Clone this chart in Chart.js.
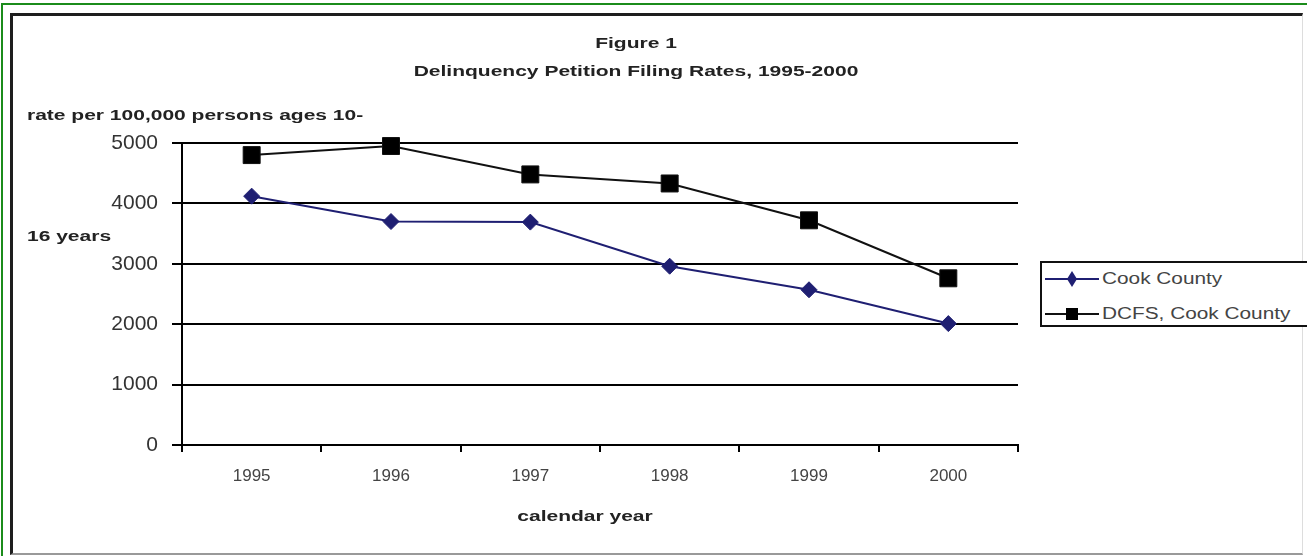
<!DOCTYPE html>
<html>
<head>
<meta charset="utf-8">
<title>Delinquency Petition Filing Rates, 1995-2000</title>
<script src="https://cdn.jsdelivr.net/npm/chart.js@4/dist/chart.umd.min.js"></script>
<style>
  html, body {
    margin: 0;
    padding: 0;
    width: 1307px;
    height: 556px;
    overflow: hidden;
    background: #fff;
    position: relative;
    font-family: 'Liberation Sans', Arial, sans-serif;
  }
  #outer {
    position: absolute; left: 1px; top: 3px;
    width: 1400px; height: 600px;
    border: 2px solid #1b8c1b;
  }
  #frame {
    position: absolute; left: 10px; top: 13px;
    width: 1289px; height: 537px;
    border: 3px solid #1e1e1e;
    border-right: 1px solid #ddd;
    border-bottom: 2px solid #999;
  }
  #wrap { position: absolute; left: 12px; top: 16px; width: 1244px; height: 532px; }
  #legend {
    position: absolute; left: 1040px; top: 261px;
    width: 300px; height: 62px;
    border: 2px solid #111;
    background: #fff;
  }
  .row { position: absolute; left: 3px; height: 20px; width: 290px; }
  .row svg { position: absolute; left: 0; top: 0; }
  .row span {
    position: absolute; left: 57px; top: 0;
    font-size: 16px; line-height: 20px; color: #444;
    white-space: nowrap;
    transform: scaleX(1.3); transform-origin: left center;
  }
</style>
</head>
<body>
<div id="outer"></div>
<div id="frame"></div>
<div id="wrap"><canvas id="chart" width="1244" height="532"></canvas></div>
<div id="legend"></div>

<script>
// values
const years = ['1995', '1996', '1997', '1998', '1999', '2000'];
const cookCounty = [4120, 3700, 3690, 2960, 2570, 2010];
const dcfsCookCounty = [4800, 4950, 4480, 4330, 3720, 2760];
const seriesNames = ['Cook County', 'DCFS, Cook County'];
const yMin = 0;
const yMax = 5000;
const yStep = 1000;

const titleLines = ['Figure 1', 'Delinquency Petition Filing Rates, 1995-2000'];
const yTitleLines = ['rate per 100,000 persons ages 10-', '16 years'];
const xTitle = 'calendar year';

const COOK_COLOR = '#1f1f72';
const DCFS_COLOR = '#111';
const STRETCH = 1.5; // the original figure is scanned wide, text looks stretched

function drawStretched(ctx, text, x, y, align) {
  ctx.save();
  ctx.translate(x, y);
  ctx.scale(STRETCH, 1);
  ctx.font = "bold 14px 'Liberation Sans', Arial, sans-serif";
  ctx.fillStyle = '#222';
  ctx.textAlign = align;
  ctx.textBaseline = 'middle';
  ctx.fillText(text, 0, 0);
  ctx.restore();
}

const labelsPlugin = {
  id: 'figureText',
  afterDraw(chart) {
    const ctx = chart.ctx;
    drawStretched(ctx, titleLines[0], 624, 28, 'center');
    drawStretched(ctx, titleLines[1], 624, 56, 'center');
    drawStretched(ctx, yTitleLines[0], 15, 100, 'left');
    drawStretched(ctx, yTitleLines[1], 15, 221, 'left');
    drawStretched(ctx, xTitle, 573, 501, 'center');
  },
};

const chart = new Chart(document.getElementById('chart').getContext('2d'), {
  type: 'line',
  data: {
    labels: years,
    datasets: [
      {
        label: seriesNames[0],
        data: cookCounty,
        borderColor: COOK_COLOR,
        backgroundColor: COOK_COLOR,
        borderWidth: 2,
        pointStyle: 'rectRot',
        pointRadius: 8,
        pointBorderWidth: 1,
        tension: 0,
        clip: false,
      },
      {
        label: seriesNames[1],
        data: dcfsCookCounty,
        borderColor: DCFS_COLOR,
        backgroundColor: '#000',
        borderWidth: 2,
        pointStyle: 'rect',
        pointRadius: 12,
        pointBorderWidth: 1,
        tension: 0,
        clip: false,
      },
    ],
  },
  options: {
    responsive: false,
    animation: false,
    devicePixelRatio: 1,
    layout: { padding: { top: 127, right: 238, bottom: 43, left: 0 } },
    plugins: {
      legend: { display: false },
      title: { display: false },
      tooltip: { enabled: false },
    },
    scales: {
      x: {
        offset: true,
        grid: {
          offset: true,
          drawOnChartArea: false,
          drawTicks: true,
          tickLength: 7,
          color: '#000',
          lineWidth: 2,
        },
        border: { display: true, color: '#000', width: 2 },
        ticks: {
          color: '#444',
          padding: 14,
          font: { family: "'Liberation Sans', Arial, sans-serif", size: 17 },
        },
        afterFit(scale) { scale.height = 60; },
      },
      y: {
        min: yMin,
        max: yMax,
        grid: {
          color: '#000',
          lineWidth: 2,
          drawTicks: true,
          tickLength: 10,
        },
        border: { display: true, color: '#000', width: 2 },
        ticks: {
          stepSize: yStep,
          color: '#333',
          padding: 14,
          font: { family: "'Liberation Sans', Arial, sans-serif", size: 21 },
          callback: (v) => String(v),
        },
        afterFit(scale) { scale.width = 170; },
      },
    },
  },
  plugins: [labelsPlugin],
});

// legend in the boxed style of the original
function legendSample(i) {
  const marker = i === 0
    ? `<polygon points="27,2 32,10 27,18 22,10" fill="${COOK_COLOR}"/>`
    : `<rect x="21" y="4" width="12" height="12" fill="#000"/>`;
  const color = i === 0 ? COOK_COLOR : DCFS_COLOR;
  return `<svg width="54" height="20"><line x1="0" y1="10" x2="54" y2="10" stroke="${color}" stroke-width="2"/>${marker}</svg>`;
}
const legend = document.getElementById('legend');
seriesNames.forEach((name, i) => {
  const row = document.createElement('div');
  row.className = 'row';
  row.style.top = (i === 0 ? 6 : 41) + 'px';
  row.innerHTML = legendSample(i) + '<span></span>';
  row.querySelector('span').textContent = name;
  legend.appendChild(row);
});
</script>
</body>
</html>
